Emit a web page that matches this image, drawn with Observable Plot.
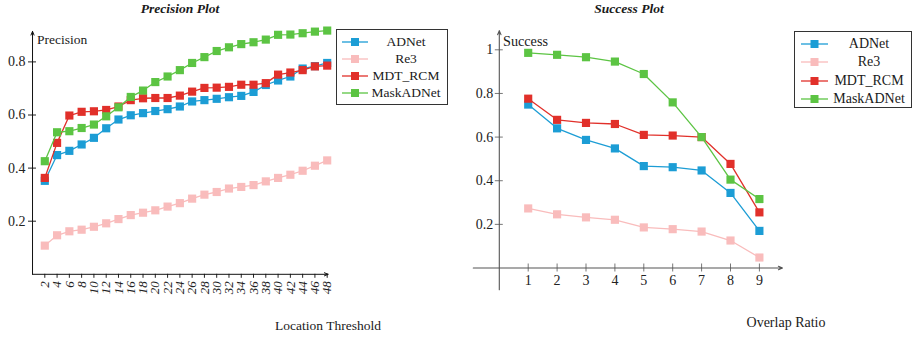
<!DOCTYPE html>
<html><head><meta charset="utf-8">
<script src="https://cdn.jsdelivr.net/npm/d3@7"></script>
<script src="https://cdn.jsdelivr.net/npm/@observablehq/plot@0.6"></script>
<style>
body{margin:0;background:#fff;}
#wrap{position:relative;width:918px;height:337px;font-family:"Liberation Serif",serif;color:#1a1a1a;overflow:hidden;}
.abs{position:absolute;white-space:nowrap;font-size:13.5px;}
.title{font-weight:bold;font-style:italic;font-size:13.5px;transform:translateX(-50%);}
.alab{transform:translateX(-50%);}
.legend{position:absolute;border:1px solid #333;box-sizing:border-box;background:#fff;}
.legend .row{position:absolute;left:0;right:0;height:0;}
.legend .txt{position:absolute;transform:translate(-50%,-50%);top:0;white-space:nowrap;}
.legend svg{position:absolute;top:-5px;}
</style></head>
<body><div id="wrap"></div>
<script>
// ---------- data ----------
const series = ["ADNet", "Re3", "MDT_RCM", "MaskADNet"];
const colors = ["#1c9dd5", "#f9bcbc", "#e1302a", "#5cc443"];

const thresholds = [2,4,6,8,10,12,14,16,18,20,22,24,26,28,30,32,34,36,38,40,42,44,46,48];
const precADNet     = [0.352,0.449,0.465,0.489,0.514,0.550,0.583,0.599,0.607,0.615,0.622,0.632,0.651,0.656,0.661,0.667,0.672,0.687,0.713,0.730,0.745,0.775,0.784,0.796];
const precRe3       = [0.108,0.147,0.162,0.168,0.179,0.192,0.208,0.223,0.232,0.241,0.255,0.268,0.285,0.300,0.310,0.323,0.329,0.336,0.350,0.363,0.375,0.390,0.409,0.429];
const precMDT       = [0.363,0.495,0.598,0.612,0.614,0.619,0.632,0.656,0.663,0.664,0.664,0.673,0.688,0.702,0.703,0.706,0.714,0.714,0.720,0.752,0.760,0.769,0.783,0.786];
const precMaskADNet = [0.426,0.535,0.539,0.551,0.564,0.595,0.629,0.668,0.692,0.724,0.745,0.769,0.796,0.818,0.841,0.855,0.867,0.874,0.884,0.902,0.903,0.908,0.914,0.918];
const precYTicks = [0.2, 0.4, 0.6, 0.8];

const overlap = [1,2,3,4,5,6,7,8,9];
const succADNet     = [0.749,0.640,0.587,0.548,0.467,0.462,0.447,0.344,0.170];
const succRe3       = [0.273,0.246,0.232,0.221,0.186,0.178,0.167,0.126,0.048];
const succMDT       = [0.776,0.679,0.665,0.660,0.610,0.607,0.600,0.477,0.255];
const succMaskADNet = [0.986,0.977,0.966,0.946,0.889,0.759,0.600,0.405,0.316];
const succYTicks = [0.2, 0.4, 0.6, 0.8, 1];

// ---------- helpers ----------
function rows(xs, arrs) {
  const out = [];
  series.forEach((s, i) => arrs[i].forEach((v, j) => out.push({series: s, x: xs[j], y: v})));
  return out;
}
function seriesMarks(data) {
  const m = [];
  for (const s of series) {
    const d = data.filter(r => r.series === s);
    m.push(Plot.line(d, {x: "x", y: "y", stroke: "series", strokeWidth: 1.3}));
    m.push(Plot.dot(d, {x: "x", y: "y", fill: "series", symbol: "square", r: 4.6}));
  }
  return m;
}
const wrap = document.getElementById("wrap");
function addDiv(cls, text, left, top, size) {
  const d = document.createElement("div");
  d.className = "abs " + cls;
  d.textContent = text;
  d.style.left = left + "px";
  d.style.top = top + "px";
  if (size) d.style.fontSize = size + "px";
  wrap.appendChild(d);
  return d;
}
function addLegend(left, top, w, h, rowTop, rowStep, lineX0, lineX1, textX, fontSize) {
  const box = document.createElement("div");
  box.className = "legend";
  Object.assign(box.style, {left: left + "px", top: top + "px", width: w + "px", height: h + "px"});
  series.forEach((s, i) => {
    const r = document.createElement("div");
    r.className = "row";
    r.style.top = (rowTop + i * rowStep) + "px";
    const svg = d3.create("svg").attr("width", lineX1 - lineX0 + 2).attr("height", 10)
      .style("left", (lineX0 - 1) + "px");
    const mid = (lineX1 - lineX0) / 2 + 1;
    svg.append("line").attr("x1", 1).attr("x2", lineX1 - lineX0 + 1).attr("y1", 5).attr("y2", 5)
      .attr("stroke", colors[i]).attr("stroke-width", 1.3);
    svg.append("rect").attr("x", mid - 4).attr("y", 1).attr("width", 8).attr("height", 8).attr("fill", colors[i]);
    r.appendChild(svg.node());
    const t = document.createElement("div");
    t.className = "txt";
    t.style.left = textX + "px";
    t.style.fontSize = fontSize + "px";
    t.textContent = s;
    r.appendChild(t);
    box.appendChild(r);
  });
  wrap.appendChild(box);
}
function place(svg, x) {
  svg.style.position = "absolute";
  svg.style.left = x + "px";
  svg.style.top = "0px";
  wrap.appendChild(svg);
}

// ---------- left: precision ----------
const precData = rows(thresholds, [precADNet, precRe3, precMDT, precMaskADNet]);
const leftAxes = [{x1: 0, y1: 0, x2: 48.15, y2: 0}, {x1: 0, y1: 0, x2: 0, y2: 0.915}];
const left = Plot.plot({
  width: 459, height: 337,
  marginLeft: 32, marginBottom: 337 - 273.8, marginTop: 8, marginRight: 130,
  x: {domain: [2, 48], range: [44.3, 326.7]},
  y: {domain: [0, 1], range: [273.8, 8.3]},
  color: {domain: series, range: colors},
  style: {fontFamily: "'Liberation Serif', serif", fontSize: "14px", background: "transparent", overflow: "visible", color: "#222"},
  marks: [
    Plot.axisY(precYTicks, {tickSize: 8, dx: 4, tickPadding: 3, tickFormat: d3.format(".1f"), label: null, fontSize: 14}),
    Plot.axisX(thresholds, {tickSize: 4, tickPadding: 3, tickRotate: -90, label: null, fontSize: 13, fontStyle: "italic"}),
    Plot.arrow(leftAxes, {x1: "x1", y1: "y1", x2: "x2", y2: "y2", stroke: "#111", strokeWidth: 1, headLength: 6, headAngle: 45}),
    ...seriesMarks(precData)
  ]
});
place(left, 0);

// ---------- right: success ----------
const succData = rows(overlap, [succADNet, succRe3, succMDT, succMaskADNet]);
const rightAxes = [{x1: -0.9, y1: 0, x2: 9.8, y2: 0}, {x1: 0, y1: -0.1, x2: 0, y2: 1.088}];
const right = Plot.plot({
  width: 459, height: 337,
  marginLeft: 39.8, marginBottom: 337 - 267.5, marginTop: 8, marginRight: 130,
  x: {domain: [0, 9], range: [39.8, 299.9]},
  y: {domain: [0, 1], range: [267.5, 49.3]},
  color: {domain: series, range: colors},
  style: {fontFamily: "'Liberation Serif', serif", fontSize: "14px", background: "transparent", overflow: "visible", color: "#222"},
  marks: [
    Plot.axisY(succYTicks, {tickSize: 8, dx: 4, tickPadding: 2, tickFormat: d => d === 1 ? "1" : d3.format(".1f")(d), label: null, fontSize: 14, stroke: "#777"}),
    Plot.axisX(overlap, {tickSize: 8, dy: -4, tickPadding: 3, label: null, fontSize: 14, stroke: "#777"}),
    Plot.arrow(rightAxes, {x1: "x1", y1: "y1", x2: "x2", y2: "y2", stroke: "#555", strokeWidth: 1.1, headLength: 6, headAngle: 45}),
    ...seriesMarks(succData)
  ]
});
place(right, 459);

// ---------- text ----------
addDiv("title", "Precision Plot", 180, 1);
addDiv("title", "Success Plot", 629, 1);
addDiv("", "Precision", 37, 32, 13.5);
addDiv("", "Success", 503, 33, 14.2);
addDiv("alab", "Location Threshold", 328, 318, 13.5);
addDiv("alab", "Overlap Ratio", 786, 315, 14);

addLegend(336, 29.3, 112, 76, 11.8, 16.9, 5, 31, 69, 13.5);
addLegend(794, 31, 118, 77, 12.3, 18.1, 6, 33, 74, 14);
</script></body></html>
